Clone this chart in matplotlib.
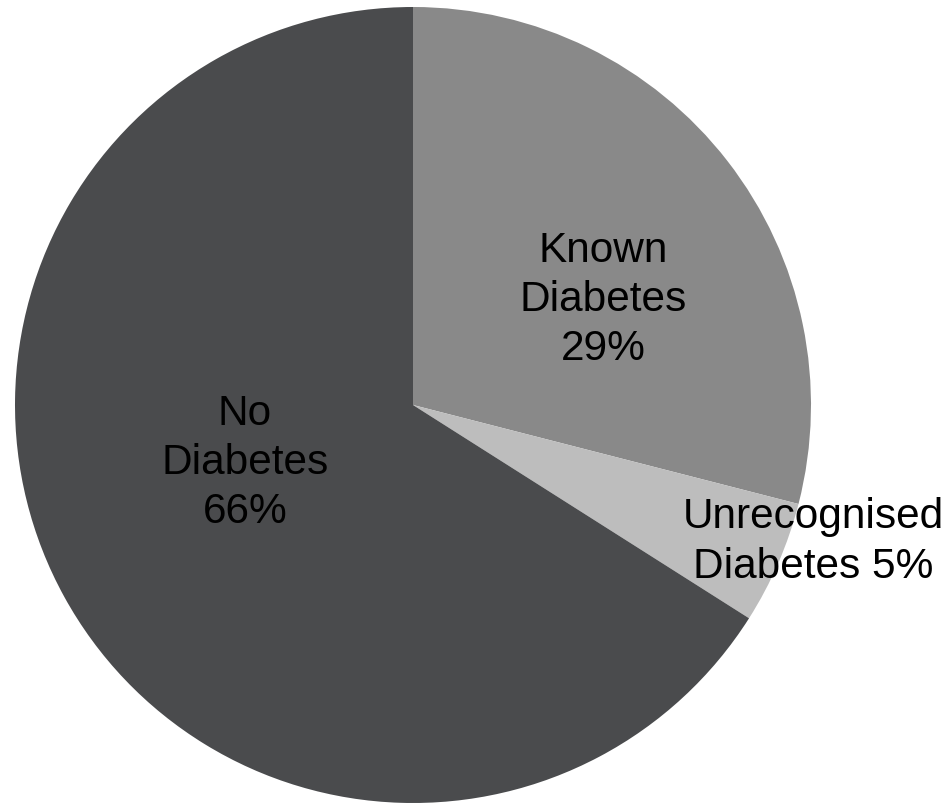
import matplotlib
matplotlib.use("Agg")
from matplotlib import pyplot as plt

# data
labels = ['Known\nDiabetes\n29%', 'Unrecognised\nDiabetes 5%', 'No\nDiabetes\n66%']
shares = [29, 5, 66]
colours = ['#898989', '#bdbdbd', '#4a4b4d']
# label centres in pixels (from top-left)
label_pos = [(603, 300), (813, 542), (245, 463)]

W, H = 949, 806
plt.rcParams['font.family'] = ['Liberation Sans', 'DejaVu Sans']

fig = plt.figure(figsize=(W / 100, H / 100), dpi=100)
ax = fig.add_axes([0, 0, 1, 1])

ax.pie(shares, colors=colours, startangle=90, counterclock=False,
       center=(413, H - 405), radius=398, frame=True)
ax.set_xlim(0, W)
ax.set_ylim(0, H)
ax.axis('off')

for txt, (x, y) in zip(labels, label_pos):
    ax.text(x, H - y, txt, ha='center', va='center', fontsize=30.5,
            color='black', linespacing=1.3)

fig.savefig('out.png', dpi=100)
